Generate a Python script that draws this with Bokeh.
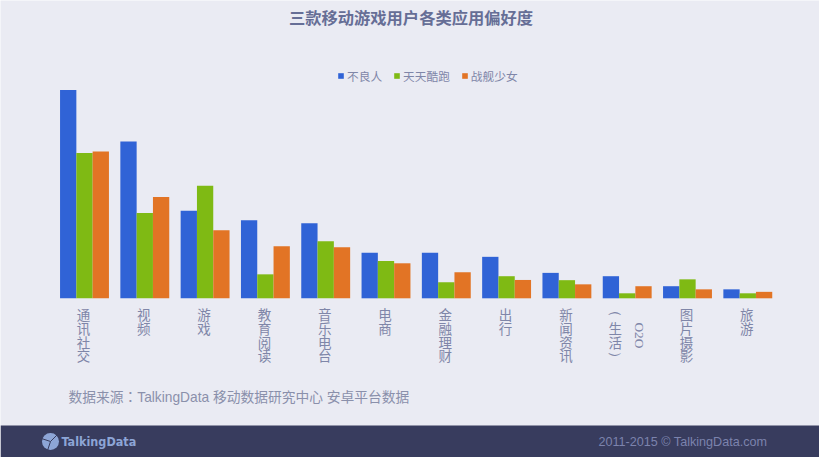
from bokeh.embed import file_html
from bokeh.resources import INLINE
from bokeh.plotting import figure
from bokeh.models import (ColumnDataSource, Range1d, LinearAxis, FixedTicker, Legend, LegendItem,
                          Label, BoxAnnotation)
from bokeh.transform import dodge

categories = ["通讯社交", "视频", "游戏", "教育阅读", "音乐电台", "电商", "金融理财", "出行", "新闻资讯", "O2O（生活）", "图片摄影", "旅游"]
axis_labels = ["通\n讯\n社\n交", "视\n频", "游\n戏", "教\n育\n阅\n读", "音\n乐\n电\n台", "电\n商", "金\n融\n理\n财", "出\n行", "新\n闻\n资\n讯", "　\n生\n活", "图\n片\n摄\n影", "旅\n游"]
buliangren = [100.0, 75.2, 42.0, 37.5, 36.0, 21.8, 21.8, 19.9, 12.2, 10.6, 5.8, 4.3]
tiantian = [69.7, 40.9, 54.0, 11.5, 27.4, 17.9, 7.7, 10.6, 8.7, 2.4, 9.1, 2.4]
zhanjian = [70.5, 48.6, 32.7, 25.0, 24.5, 16.8, 12.5, 8.8, 6.7, 5.8, 4.3, 3.1]
series_names = ["不良人", "天天酷跑", "战舰少女"]
colors = ["#3063d6", "#7fba14", "#e27425"]

BG = "#eaebf3"
FOOT = "#383c5e"
INK = "#7f86a8"
FONT = "Noto Sans CJK SC"

W, H = 819, 457
STEP, ZERO_X, ZERO_Y, PX_PER_UNIT = 60.3, 84.0, 297.8, 2.084


def fx(px):
    return (px - ZERO_X) / STEP


def fy(py):
    return (ZERO_Y - py) / PX_PER_UNIT


p = figure(width=W, height=H, output_backend="svg", toolbar_location=None,
           x_range=Range1d(fx(0), fx(W)), y_range=Range1d(fy(H), fy(0)),
           x_axis_location=None, y_axis_location=None, min_border=0,
           background_fill_color=BG, border_fill_color=BG, outline_line_color=None)
p.grid.visible = False

p.add_layout(BoxAnnotation(bottom=fy(H), top=fy(425), left=fx(0), right=fx(W),
                           fill_color=FOOT, fill_alpha=1, line_color=None, level="underlay"))

src = ColumnDataSource(dict(i=list(range(len(categories))), name=categories, a=buliangren, b=tiantian, c=zhanjian))
bw = 16.3 / STEP
items = []
for col, off, color, name in zip("abc", (-bw, 0, bw), colors, series_names):
    r = p.vbar(x=dodge("i", off), top=col, width=bw, bottom=0, source=src, fill_color=color, line_color=None)
    items.append(LegendItem(label=name, renderers=[r]))

LABEL_SHIFT = -1 / STEP
O2O_SHIFT = -11 / STEP
ticks = [i + LABEL_SHIFT for i in range(len(categories))]
ticks[9] += O2O_SHIFT
axis = LinearAxis(fixed_location=0, ticker=FixedTicker(ticks=ticks),
                  major_label_overrides={t: l for t, l in zip(ticks, axis_labels)},
                  axis_line_color=None, major_tick_line_color=None, minor_tick_line_color=None,
                  major_tick_out=0, major_tick_in=0, major_label_standoff=6,
                  major_label_text_color=INK, major_label_text_font=FONT, major_label_text_font_size="13.5px",
                  major_label_text_line_height=0.685, major_label_orientation="horizontal")
p.add_layout(axis, "below")

p.text(x=[9 + 12 / STEP], y=[fy(335)], text=["O2O"], angle=[-1.5708], text_align="center", text_baseline="middle",
       text_color=INK, text_font=FONT, text_font_size="13.5px")
p.text(x=[ticks[9]] * 2, y=[fy(310), fy(358)], text=["（", "）"], angle=[-1.5708] * 2, text_align="center",
       text_baseline="middle", text_color=INK, text_font=FONT, text_font_size="13.5px")

legend = Legend(items=items, orientation="horizontal", location=(337, 373), background_fill_alpha=0,
                border_line_color=None, glyph_width=7, glyph_height=7, label_standoff=3, spacing=11,
                padding=0, margin=0, label_text_font=FONT, label_text_font_size="11.7px", label_text_color=INK)
p.add_layout(legend)


def label(text, px, py, size, color, align="left", weight="normal", font=FONT):
    p.add_layout(Label(x=fx(px), y=fy(py), text=text, text_font_size=size, text_color=color, text_align=align,
                       text_baseline="middle", text_font=font, text_font_style=weight))


label("三款移动游戏用户各类应用偏好度", 410.5, 16.5, "16.3px", "#666e96", "center", "bold")
label("数据来源：TalkingData 移动数据研究中心 安卓平台数据", 68, 397, "13.75px", "#8a90ab",
      font="Liberation Sans, Noto Sans CJK TC")
label("2011-2015 © TalkingData.com", 598, 441, "12.6px", "#7c83ad", font="Liberation Sans")
label("TalkingData", 61, 441, "12.5px", "#8da5d6", weight="bold", font="DejaVu Sans Condensed")

p.scatter(x=[fx(50)], y=[fy(441)], size=17, marker="circle", fill_color="#8da5d6", line_color=None)
p.segment(x0=[fx(50)] * 3, y0=[fy(441)] * 3, x1=[fx(41), fx(57), fx(47)], y1=[fy(438), fy(434), fy(450)],
          line_color=FOOT, line_width=1)

open("out.html", "w").write(file_html(p, INLINE))
